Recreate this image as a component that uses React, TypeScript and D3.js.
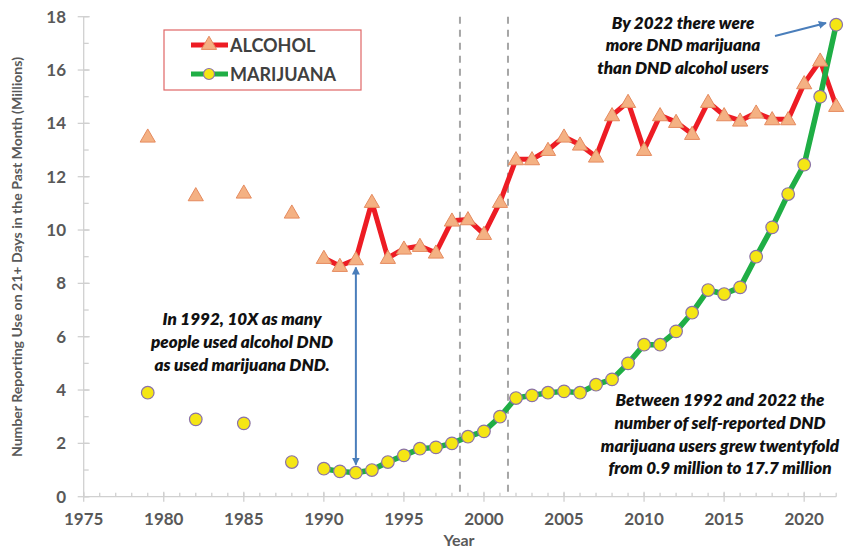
import React from 'react';
import * as d3 from 'd3';

const years = [1979, 1982, 1985, 1988, 1990, 1991, 1992, 1993, 1994, 1995, 1996, 1997, 1998, 1999, 2000, 2001, 2002, 2003, 2004, 2005, 2006, 2007, 2008, 2009, 2010, 2011, 2012, 2013, 2014, 2015, 2016, 2017, 2018, 2019, 2020, 2021, 2022];
const alcohol = [13.5, 11.3, 11.4, 10.65, 8.95, 8.65, 8.9, 11.05, 8.95, 9.3, 9.4, 9.15, 10.35, 10.4, 9.85, 11.05, 12.65, 12.65, 13.0, 13.5, 13.2, 12.75, 14.3, 14.8, 13.0, 14.3, 14.05, 13.6, 14.8, 14.3, 14.1, 14.4, 14.15, 14.15, 15.5, 16.35, 14.65];
const marijuana = [3.9, 2.9, 2.75, 1.3, 1.05, 0.95, 0.9, 1.0, 1.3, 1.55, 1.8, 1.85, 2.0, 2.25, 2.45, 3.0, 3.7, 3.8, 3.9, 3.95, 3.9, 4.2, 4.4, 5.0, 5.7, 5.7, 6.2, 6.9, 7.75, 7.6, 7.85, 9.0, 10.1, 11.35, 12.45, 15.0, 17.7];
const xTicks = [1975, 1980, 1985, 1990, 1995, 2000, 2005, 2010, 2015, 2020];
const yTicks = [0, 2, 4, 6, 8, 10, 12, 14, 16, 18];
const dashedYears = [1998.5, 2001.5];
const lineStart = 1990; // annual survey: connected from here on

const W = 851;
const H = 548;
const FONT = 'Lato, "Open Sans", sans-serif';
const GRAY = '#595959';
const RED = '#ed1c24';
const GREEN = '#1fae45';

export default function App() {
  const x = d3.scaleLinear().domain([1975, 2022]).range([83.7, 836.2]);
  const y = d3.scaleLinear().domain([0, 18]).range([496.7, 16.7]);

  const alc = years.map((yr, i) => ({ yr, v: alcohol[i] }));
  const mj = years.map((yr, i) => ({ yr, v: marijuana[i] }));

  const line = d3.line<{ yr: number; v: number }>()
    .x(d => x(d.yr))
    .y(d => y(d.v));

  const tri = d3.symbol().type(d3.symbolTriangle).size(100)();
  const minorYears = d3.range(1975, 2023);
  const minorY = d3.range(0, 19);

  return (
    <svg width={W} height={H} style={{ position: 'absolute', left: 0, top: 0, background: '#fff' }} fontFamily={FONT}>
      {/* axes */}
      <g stroke="#d0d0d0" strokeWidth={1.3}>
        <line x1={x(1975)} x2={x(2022)} y1={y(0)} y2={y(0)} />
        <line x1={x(1975)} x2={x(1975)} y1={y(0)} y2={y(18)} />
        {minorYears.map(t => (
          <line key={'mx' + t} x1={x(t)} x2={x(t)} y1={y(0) - 4} y2={y(0)} />
        ))}
        {xTicks.map(t => (
          <line key={'x' + t} x1={x(t)} x2={x(t)} y1={y(0) - 5} y2={y(0) + 5} />
        ))}
        {minorY.map(t => (
          <line key={'my' + t} x1={x(1975)} x2={x(1975) + 5} y1={y(t)} y2={y(t)} />
        ))}
        {yTicks.map(t => (
          <line key={'y' + t} x1={x(1975) - 6} x2={x(1975) + 6} y1={y(t)} y2={y(t)} />
        ))}
      </g>
      <g fill={GRAY} fontWeight={700} fontSize={17}>
        {xTicks.map(t => (
          <text key={t} x={x(t)} y={y(0) + 28} textAnchor="middle">{t}</text>
        ))}
        {yTicks.map(t => (
          <text key={t} x={66} y={y(t) + 6} textAnchor="end">{t}</text>
        ))}
      </g>
      <text x={459} y={546} textAnchor="middle" fill={GRAY} fontWeight={700} fontSize={16}>Year</text>
      <text transform="translate(22,257) rotate(-90)" textAnchor="middle" fill={GRAY} fontWeight={700} fontSize={13.5}
        textLength={400} lengthAdjust="spacingAndGlyphs">
        Number Reporting Use on 21+ Days in the Past Month (Millions)
      </text>

      {/* dashed reference lines */}
      {dashedYears.map(d => (
        <line key={d} x1={x(d)} x2={x(d)} y1={y(18)} y2={y(0)} stroke="#a6a6a6" strokeWidth={2} strokeDasharray="7,6" />
      ))}

      {/* series lines */}
      <path d={line(alc.filter(d => d.yr >= lineStart)) || ''} fill="none" stroke={RED} strokeWidth={5} strokeLinejoin="round" />
      <path d={line(mj.filter(d => d.yr >= lineStart)) || ''} fill="none" stroke={GREEN} strokeWidth={5.5} strokeLinejoin="round" />

      {/* markers */}
      {alc.map(d => (
        <path key={'a' + d.yr} d={tri || ''} transform={`translate(${x(d.yr)},${y(d.v) + 1})`} fill="#f4b183" stroke="#e58a5e" strokeWidth={1} />
      ))}
      {mj.map(d => (
        <circle key={'m' + d.yr} cx={x(d.yr)} cy={y(d.v)} r={6.3} fill="#f5e614" stroke="#8a72a8" strokeWidth={1.2} />
      ))}

      {/* legend */}
      <rect x={164} y={30} width={197} height={60} fill="#fff" stroke="#e06666" strokeWidth={1.2} />
      <line x1={191} x2={228} y1={45} y2={45} stroke={RED} strokeWidth={5} />
      <path d={tri || ''} transform="translate(209,45)" fill="#f4b183" stroke="#e58a5e" strokeWidth={1} />
      <line x1={191} x2={228} y1={74} y2={74} stroke={GREEN} strokeWidth={5} />
      <circle cx={209} cy={74} r={5.5} fill="#f5e614" stroke="#8a72a8" strokeWidth={1.2} />
      <text x={230} y={52} fill="#404040" fontWeight={700} fontSize={18}>ALCOHOL</text>
      <text x={230} y={81} fill="#404040" fontWeight={700} fontSize={18}>MARIJUANA</text>

      {/* annotations */}
      <g fontWeight={800} fontStyle="italic" fontSize={17} fill="#111" textAnchor="middle">
        <text x={683} y={29}>By 2022  there were</text>
        <text x={683} y={51}>more DND marijuana</text>
        <text x={683} y={74}>than DND alcohol users</text>
        <text x={242} y={325}>In 1992, 10X as many</text>
        <text x={242} y={348}>people used alcohol DND</text>
        <text x={242} y={371}>as used marijuana DND.</text>
        <text x={720} y={406}>Between 1992 and 2022 the</text>
        <text x={720} y={429}>number of self-reported DND</text>
        <text x={720} y={452}>marijuana users grew twentyfold</text>
        <text x={720} y={474}>from 0.9 million to 17.7 million</text>
      </g>
      <defs>
        <marker id="arr" viewBox="0 0 10 10" refX={9} refY={5} markerWidth={4} markerHeight={4} orient="auto-start-reverse">
          <path d="M0,0 L10,5 L0,10 z" fill="#4a7ebb" />
        </marker>
      </defs>
      <line x1={775} y1={36} x2={826} y2={23} stroke="#4a7ebb" strokeWidth={2} markerEnd="url(#arr)" />
      <line x1={x(1992)} y1={y(8.9) + 8} x2={x(1992)} y2={y(0.9) - 8} stroke="#4a7ebb" strokeWidth={2} markerStart="url(#arr)" markerEnd="url(#arr)" />
    </svg>
  );
}
